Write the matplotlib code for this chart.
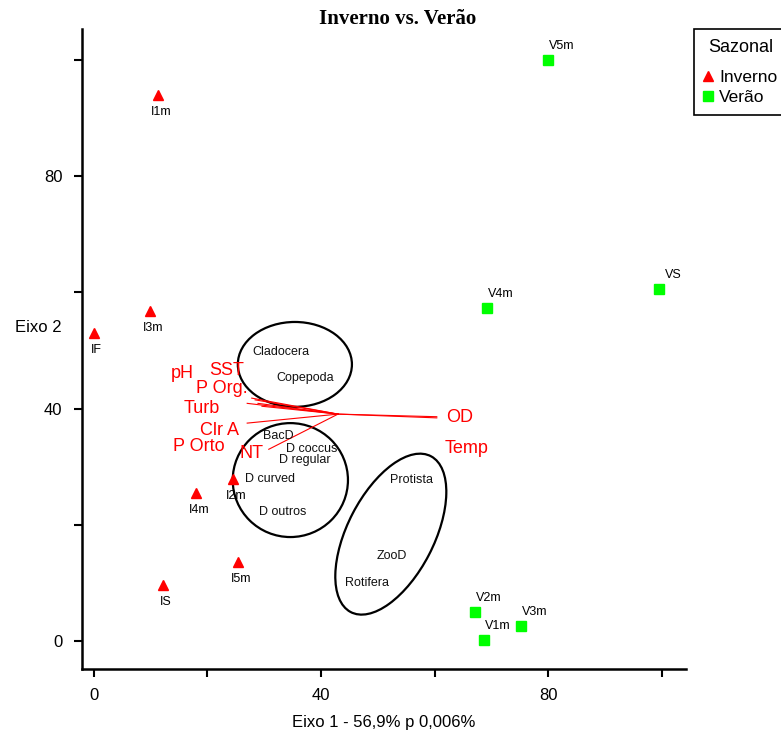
import matplotlib.pyplot as plt
from matplotlib.patches import Ellipse
from matplotlib.lines import Line2D

plt.rcParams['font.family'] = ['Liberation Sans', 'DejaVu Sans']

# site scores (Eixo 1, Eixo 2)
inv_names = ['I1m', 'I3m', 'IF', 'I2m', 'I4m', 'I5m', 'IS']
inv_x = [11.3, 9.9, 0.0, 24.5, 18.0, 25.4, 12.2]
inv_y = [93.9, 56.8, 53.0, 27.9, 25.5, 13.6, 9.6]

ver_names = ['V5m', 'VS', 'V4m', 'V2m', 'V3m', 'V1m']
ver_x = [80.0, 99.6, 69.3, 67.1, 75.2, 68.7]
ver_y = [100.0, 60.6, 57.3, 5.0, 2.6, 0.2]

# environmental vectors
vec_origin = (43.0, 39.05)
vec_names = ['pH', 'SST', 'P Org.', 'Turb', 'P Orto', 'Clr A', 'NT', 'OD', 'Temp']
vec_x = [27.8, 28.4, 28.9, 27.0, 29.6, 27.0, 30.8, 60.4, 60.4]
vec_y = [41.8, 41.5, 40.9, 40.9, 40.4, 37.5, 33.0, 38.4, 38.6]
vec_lab_x = [15.5, 23.4, 22.6, 19.0, 18.5, 22.2, 27.7, 64.5, 65.7]
vec_lab_y = [46.1, 46.5, 43.4, 40.1, 33.4, 36.3, 32.3, 38.4, 33.2]

# biological groups
sp_names = ['Cladocera', 'Copepoda', 'BacD', 'D coccus', 'D regular', 'D curved',
            'D outros', 'Protista', 'ZooD', 'Rotifera']
sp_x = [33.0, 37.2, 32.4, 38.4, 37.2, 31.0, 33.3, 56.0, 52.5, 48.1]
sp_y = [49.7, 45.2, 35.3, 33.0, 31.1, 27.9, 22.2, 27.7, 14.6, 10.0]

# group ellipses: centre x, centre y, width, height, angle
ell_cx = [35.4, 34.6, 52.3]
ell_cy = [47.6, 27.7, 18.4]
ell_w = [20.1, 20.3, 30.3]
ell_h = [14.6, 19.6, 15.2]
ell_ang = [0, 0, 62]

W, H = 781, 731
fig = plt.figure(figsize=(W / 100, H / 100), dpi=100)
ax = fig.add_axes([82 / W, (H - 669) / H, (686 - 82) / W, (669 - 29) / H])

for i in range(len(ell_cx)):
    ax.add_patch(Ellipse((ell_cx[i], ell_cy[i]), ell_w[i], ell_h[i], angle=ell_ang[i],
                         fill=False, edgecolor='black', linewidth=1.6))

for i in range(len(vec_names)):
    ax.plot([vec_origin[0], vec_x[i]], [vec_origin[1], vec_y[i]], color='red', linewidth=0.8)
    ax.text(vec_lab_x[i], vec_lab_y[i], vec_names[i], color='red', fontsize=13,
            ha='center', va='center')

for i in range(len(sp_names)):
    ax.text(sp_x[i], sp_y[i], sp_names[i], fontsize=9, ha='center', va='center', color='#111111')

ax.plot(inv_x, inv_y, linestyle='none', marker='^', markersize=7.5, color='red')
ax.plot(ver_x, ver_y, linestyle='none', marker='s', markersize=7.5, color='#00ff00')

for i in range(len(inv_names)):
    ax.annotate(inv_names[i], (inv_x[i], inv_y[i]), xytext=(2, -12), textcoords='offset points',
                fontsize=9, ha='center', va='center')
for i in range(len(ver_names)):
    ax.annotate(ver_names[i], (ver_x[i], ver_y[i]), xytext=(10, 10), textcoords='offset points',
                fontsize=9, ha='center', va='center')

ax.set_xlim(-2.1, 104.3)
ax.set_ylim(-4.8, 105.3)
ax.set_xticks([0, 20, 40, 60, 80, 100])
ax.set_xticklabels(['0', '', '40', '', '80', ''])
ax.set_yticks([0, 20, 40, 60, 80, 100])
ax.set_yticklabels(['0', '', '40', '', '80', ''])
ax.tick_params(direction='out', length=6, width=1.5, labelsize=12, pad=8)
for s in ['top', 'right']:
    ax.spines[s].set_visible(False)
for s in ['left', 'bottom']:
    ax.spines[s].set_linewidth(1.8)

ax.set_xlabel('Eixo 1 - 56,9% p 0,006%', fontsize=12, labelpad=8)
fig.text(38 / W, 1 - 328 / H, 'Eixo 2', fontsize=12, ha='center', va='center')
fig.text(398 / W, 1 - 19 / H, 'Inverno vs. Verão', fontsize=15, fontweight='bold',
         family='Liberation Serif', ha='center', va='center')

# legend sits partly past the right edge of the figure
handles = [Line2D([], [], linestyle='none', marker='^', markersize=7, color='red'),
           Line2D([], [], linestyle='none', marker='s', markersize=7, color='#00ff00')]
leg = fig.legend(handles, ['Inverno', 'Verão'], title='Sazonal', loc='upper left',
                 bbox_to_anchor=(694 / W, 1 - 29 / H), borderaxespad=0, fontsize=12.5,
                 title_fontsize=13, fancybox=False, edgecolor='black', handlelength=0.5,
                 handletextpad=0.4, borderpad=0.55, labelspacing=0.3, framealpha=1)
leg.get_frame().set_linewidth(1.2)
leg._legend_box.sep = 10

fig.savefig('out.png', dpi=100)
